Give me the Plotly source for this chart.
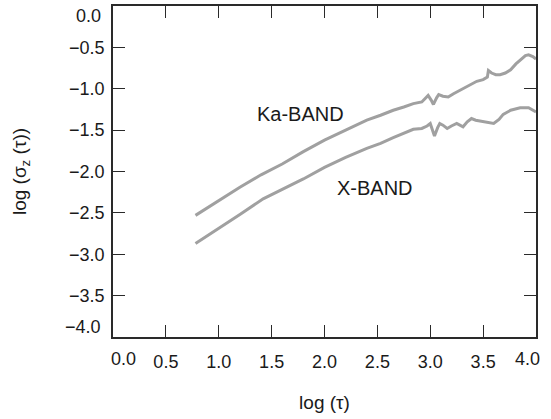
import plotly.graph_objects as go

# Ka-band curve: log(tau) vs log(sigma_z(tau))
ka_x = [0.78, 1.0, 1.2, 1.4, 1.6, 1.8, 2.0, 2.2, 2.4, 2.53, 2.65, 2.75,
        2.84, 2.92, 2.98, 3.01, 3.03, 3.06, 3.08, 3.12, 3.17, 3.22, 3.28, 3.35, 3.44, 3.5,
        3.54, 3.55, 3.58, 3.62, 3.66, 3.71, 3.76, 3.81, 3.85, 3.9, 3.93, 3.97, 4.0]
ka_y = [-2.53, -2.35, -2.19, -2.04, -1.91, -1.76, -1.62, -1.50, -1.38, -1.32, -1.26, -1.22,
        -1.18, -1.16, -1.08, -1.14, -1.19, -1.11, -1.07, -1.09, -1.10,
        -1.06, -1.02, -0.97, -0.91, -0.89, -0.86, -0.78, -0.81, -0.83, -0.83, -0.81, -0.77,
        -0.70, -0.65, -0.60, -0.59, -0.61, -0.64]

# X-band curve
xb_x = [0.78, 1.0, 1.2, 1.42, 1.6, 1.8, 2.0, 2.2, 2.4, 2.53, 2.65, 2.75,
        2.84, 2.92, 2.97, 3.0, 3.02, 3.04, 3.07, 3.09, 3.12, 3.16, 3.2, 3.25, 3.28, 3.31,
        3.35, 3.39, 3.43, 3.47, 3.54, 3.6, 3.65, 3.69, 3.76, 3.85, 3.93, 3.97, 4.0]
xb_y = [-2.87, -2.69, -2.52, -2.33, -2.22, -2.09, -1.95, -1.83, -1.72, -1.66, -1.59, -1.54,
        -1.49, -1.48, -1.45, -1.42, -1.50, -1.57, -1.47, -1.42, -1.44,
        -1.48, -1.45, -1.42, -1.44, -1.46, -1.40, -1.36, -1.38, -1.39, -1.41, -1.42, -1.37,
        -1.31, -1.26, -1.23, -1.23, -1.26, -1.28]

x_ticks = [0.0, 0.5, 1.0, 1.5, 2.0, 2.5, 3.0, 3.5, 4.0]
x_tick_labels = ["0.0", "0.5", "1.0", "1.5", "2.0", "2.5", "3.0", "3.5", "4.0"]
y_ticks = [0.0, -0.5, -1.0, -1.5, -2.0, -2.5, -3.0, -3.5, -4.0]
y_tick_labels = ["0.0", "\u22120.5", "\u22121.0", "\u22121.5", "\u22122.0", "\u22122.5",
                 "\u22123.0", "\u22123.5", "\u22124.0"]

FONT = "Liberation Sans, Arial, Helvetica, sans-serif"
TEXT_COLOR = "#1a1a1a"
LINE_COLOR = "#a0a0a0"
AXIS_COLOR = "#2a2a2a"
TICK_SIZE = 18

fig = go.Figure()
fig.add_trace(go.Scatter(x=ka_x, y=ka_y, mode="lines", name="Ka-BAND",
                         line=dict(color=LINE_COLOR, width=3), showlegend=False))
fig.add_trace(go.Scatter(x=xb_x, y=xb_y, mode="lines", name="X-BAND",
                         line=dict(color=LINE_COLOR, width=3), showlegend=False))

fig.add_annotation(x=1.77, y=-1.30, text="Ka-BAND", showarrow=False,
                   font=dict(family=FONT, size=20, color=TEXT_COLOR))
fig.add_annotation(x=2.48, y=-2.20, text="X-BAND", showarrow=False,
                   font=dict(family=FONT, size=20, color=TEXT_COLOR))

# End tick labels drawn inside the span (as in the reference)
tick_font = dict(family=FONT, size=TICK_SIZE, color=TEXT_COLOR)
fig.add_annotation(x=x_ticks[0], y=0, xref="x", yref="paper", text=x_tick_labels[0],
                   showarrow=False, xanchor="center", yanchor="middle",
                   xshift=10, yshift=-22, font=tick_font)
fig.add_annotation(x=x_ticks[-1], y=0, xref="x", yref="paper", text=x_tick_labels[-1],
                   showarrow=False, xanchor="center", yanchor="middle",
                   xshift=-9, yshift=-22, font=tick_font)
fig.add_annotation(x=0, y=y_ticks[0], xref="paper", yref="y", text=y_tick_labels[0],
                   showarrow=False, xanchor="right", yanchor="middle",
                   xshift=-10, yshift=-10, font=tick_font)
fig.add_annotation(x=0, y=y_ticks[-1], xref="paper", yref="y", text=y_tick_labels[-1],
                   showarrow=False, xanchor="right", yanchor="middle",
                   xshift=-10, yshift=10, font=tick_font)

axis_common = dict(showline=True, linecolor=AXIS_COLOR, linewidth=1.5, mirror="ticks",
                   ticks="inside", ticklen=12, tickwidth=1.3, tickcolor=AXIS_COLOR,
                   showgrid=False, zeroline=False, tickfont=tick_font)

# interior ticks carry axis labels; the end ticks coincide with the frame
fig.update_xaxes(range=[0, 4], tickvals=x_ticks[1:-1], ticktext=x_tick_labels[1:-1],
                 ticklabelstandoff=8,
                 title=dict(text="log (\u03c4)", font=dict(family=FONT, size=19, color=TEXT_COLOR),
                            standoff=24),
                 **axis_common)
fig.update_yaxes(range=[-4, 0], tickvals=y_ticks[1:-1], ticktext=y_tick_labels[1:-1],
                 ticklabelstandoff=3,
                 title=dict(text="log (\u03c3<sub>z</sub> (\u03c4))",
                            font=dict(family=FONT, size=19, color=TEXT_COLOR), standoff=37),
                 **axis_common)

fig.update_layout(width=551, height=419, margin=dict(l=113, r=15, t=4, b=82),
                  plot_bgcolor="white", paper_bgcolor="white",
                  font=dict(family=FONT))

fig.write_html("out.html")
